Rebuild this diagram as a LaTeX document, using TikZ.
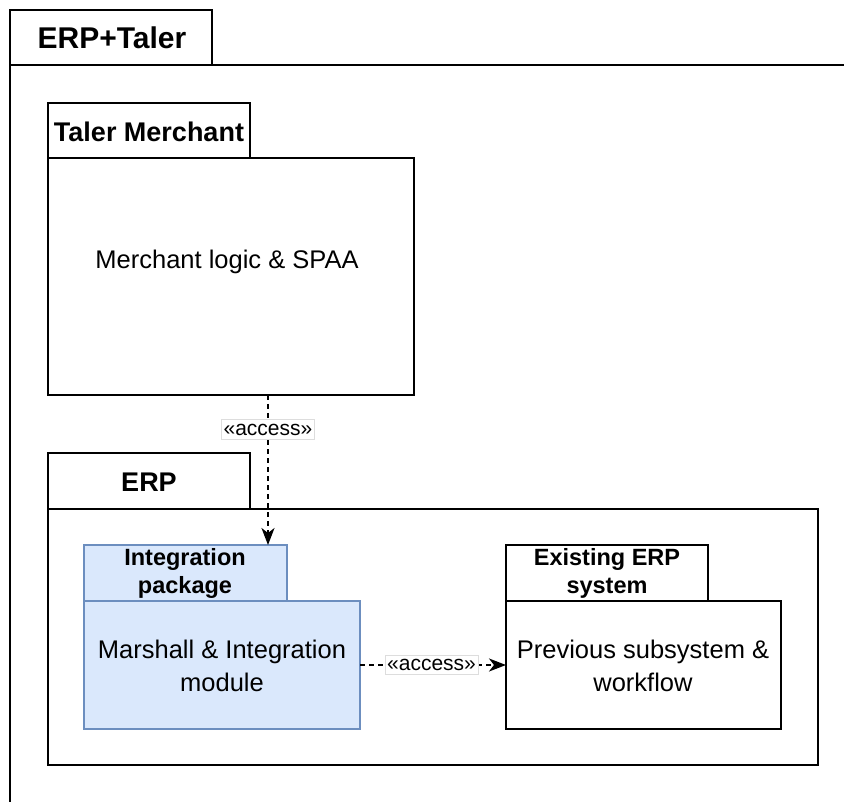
\documentclass[tikz,border=0pt]{standalone}
\usepackage{fontspec}
\setmainfont{Liberation Sans}
\usetikzlibrary{arrows.meta}
\definecolor{pkgfill}{HTML}{DAE8FC}
\definecolor{pkgline}{HTML}{6C8EBF}
\definecolor{lblline}{HTML}{DDDDDD}
\begin{document}
\begin{tikzpicture}[x=1pt,y=-1pt,
  box/.style={draw=black, line width=2pt, fill=white, rectangle, inner sep=0pt, outer sep=0pt, anchor=north west},
  bluebox/.style={box, draw=pkgline, fill=pkgfill},
  bigtitle/.style={font=\bfseries\fontsize{30}{36}\selectfont},
  midtitle/.style={font=\bfseries\fontsize{27}{32}\selectfont},
  smalltitle/.style={font=\bfseries\fontsize{23.5}{28}\selectfont, align=center},
  bodytext/.style={font=\fontsize{25.5}{33}\selectfont, align=center},
  dep/.style={draw=black, line width=2pt, dash pattern=on 5pt off 4pt, -{Stealth[length=17pt,width=13pt,inset=5pt]}},
  lbl/.style={fill=white, draw=lblline, line width=0.6pt, inner xsep=2pt, inner ysep=4pt, font=\fontsize{21}{25}\selectfont, solid}]
\useasboundingbox (0,0) rectangle (844,802);
\clip (0,0) rectangle (844,802);
\fill[white] (0,0) rectangle (844,802);
% outer package
\node[box, minimum width=850pt, minimum height=760pt] (outerbody) at (10,65) {};
\node[box, minimum width=202pt, minimum height=55pt] (outertab) at (10,10) {};
\node[bigtitle] (outerlabel) at (112,38) {ERP+Taler};
% Taler Merchant package
\node[box, minimum width=202pt, minimum height=55pt] (tmtab) at (48,103) {};
\node[midtitle] (tmlabel) at (149,132) {Taler Merchant};
\node[box, minimum width=366pt, minimum height=237pt] (tmbody) at (48,158) {};
\node[bodytext] (tmtext) at (227,262) {Merchant logic \& SPAA};
% ERP package
\node[box, minimum width=202pt, minimum height=56pt] (erptab) at (48,453) {};
\node[midtitle] (erplabel) at (149,482) {ERP};
\node[box, minimum width=770pt, minimum height=256pt] (erpbody) at (48,509) {};
% Integration package
\node[bluebox, minimum width=203pt, minimum height=56pt] (intab) at (84,545) {};
\node[smalltitle] (inlabel) at (185,573) {Integration\\package};
\node[bluebox, minimum width=276pt, minimum height=128pt] (inbody) at (84,601) {};
\node[bodytext] (intext) at (222,666) {Marshall \& Integration\\module};
% Existing ERP system
\node[box, minimum width=202pt, minimum height=56pt] (extab) at (506,545) {};
\node[smalltitle] (exlabel) at (607,573) {Existing ERP\\system};
\node[box, minimum width=275pt, minimum height=128pt] (exbody) at (506,601) {};
\node[bodytext] (extext) at (643,666) {Previous subsystem \&\\workflow};
% connectors
\coordinate (dx) at (268,0);
\coordinate (dy) at (0,665);
\draw[dep] (tmbody.south -| dx) -- node[lbl, pos=0.23] (acc1) {«access»} (intab.north -| dx);
\draw[dep] (inbody.east |- dy) -- node[lbl, pos=0.49] (acc2) {«access»} (exbody.west |- dy);
\end{tikzpicture}
\end{document}
